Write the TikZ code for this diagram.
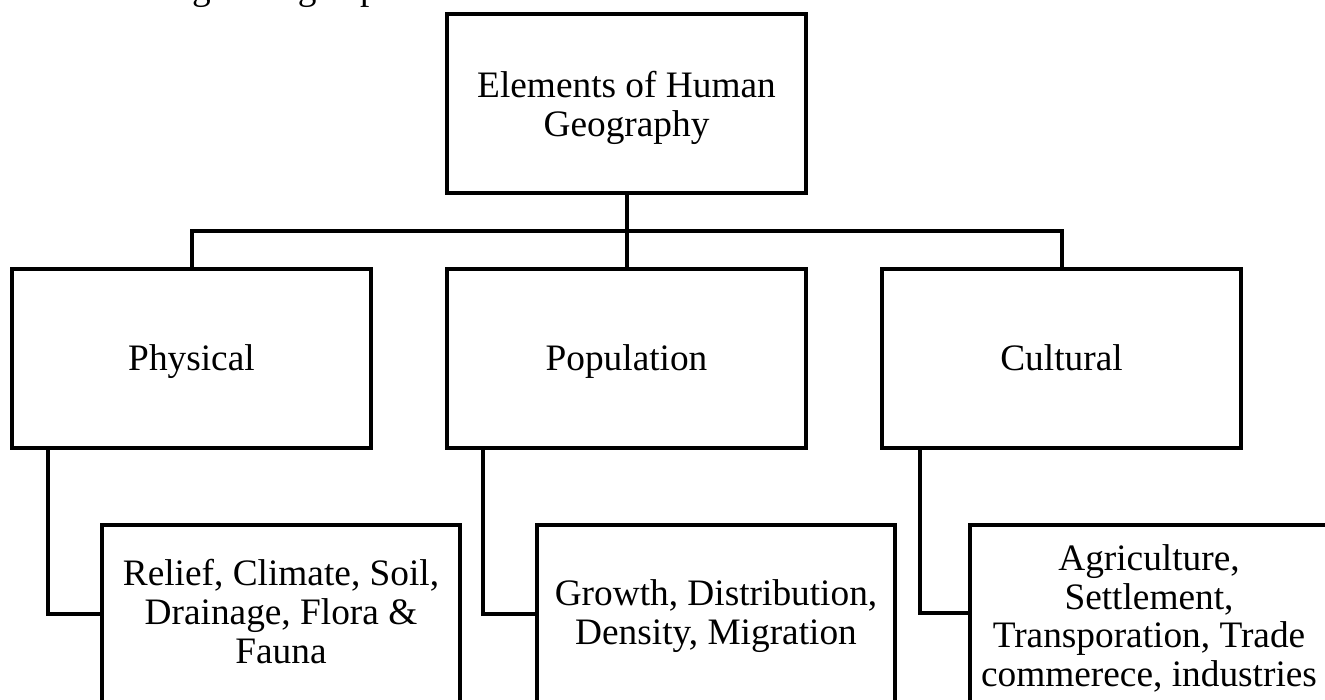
\documentclass[tikz,border=0pt]{standalone}
\usepackage{fontspec}
\setmainfont{Liberation Serif}
\begin{document}
\begin{tikzpicture}[x=0.75pt,y=-0.75pt,
  box/.style={draw=black,line width=3pt,rectangle,inner sep=0pt,outer sep=0pt,minimum width=269.25pt,minimum height=134.5pt},
  subbox/.style={draw=black,line width=3pt,rectangle,inner sep=0pt,outer sep=0pt,minimum width=268.5pt,minimum height=206.25pt},
  lbl/.style={inner sep=0pt,outer sep=0pt,align=center,anchor=north,font=\fontsize{28}{29}\selectfont},
  conn/.style={draw=black,line width=3pt}]
\useasboundingbox (0,0) rectangle (1325,700);
\clip (0,0) rectangle (1325,700);
% cut-off line of text above the diagram
\node[inner sep=0pt,anchor=base west,font=\fontsize{28}{29}\selectfont] (cut) at (84,-1) {showing their grasp};
% boxes
\node[box] (top) at (626.5,103.5) {};
\node[box] (phys) at (191.5,358.75) {};
\node[box] (pop) at (626.5,358.75) {};
\node[box] (cult) at (1061.5,358.75) {};
\node[subbox] (physsub) at (281,662.5) {};
\node[subbox] (popsub) at (716,662.5) {};
\node[subbox] (cultsub) at (1149,662.5) {};
% texts
\node[lbl] (ttop) at (626.5,71.5) {Elements of Human\\Geography};
\node[lbl] (tphys) at (191.5,344.5) {Physical};
\node[lbl] (tpop) at (626.5,344.5) {Population};
\node[lbl] (tcult) at (1061.5,344.5) {Cultural};
\node[lbl] (tphyssub) at (281,559.5) {Relief, Climate, Soil,\\Drainage, Flora \&\\Fauna};
\node[lbl] (tpopsub) at (716,579.5) {Growth, Distribution,\\Density, Migration};
\node[lbl] (tcultsub) at (1149,544.5) {Agriculture,\\Settlement,\\Transporation, Trade\\commerece, industries};
% connectors
\coordinate (busL) at (191.5,231);
\coordinate (busR) at (1061.5,231);
\draw[conn] (top.south) -- (pop.north);
\draw[conn] (phys.north) -- (busL) -- (busR) -- (cult.north);
\draw[conn] ([xshift=27pt]phys.south west) |- ([yshift=-66.75pt]physsub.north west);
\draw[conn] ([xshift=27pt]pop.south west) |- ([yshift=-66.75pt]popsub.north west);
\draw[conn] ([xshift=28.5pt]cult.south west) |- ([yshift=-66pt]cultsub.north west);
\end{tikzpicture}
\end{document}
